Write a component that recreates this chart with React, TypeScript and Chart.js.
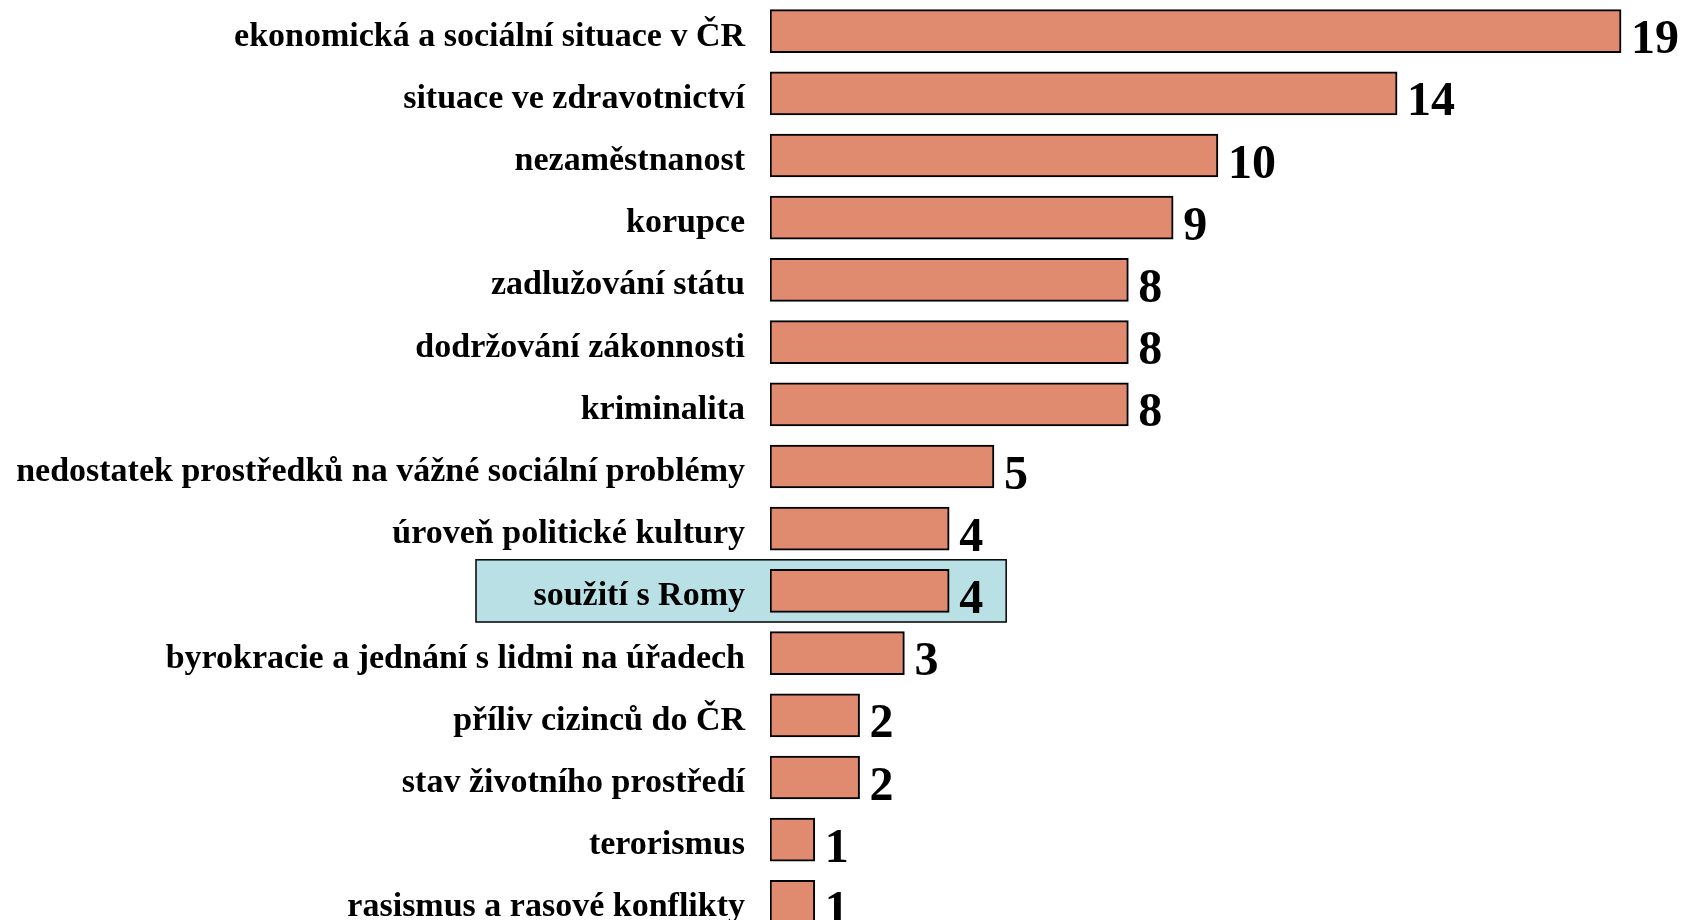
import React, { useEffect, useRef } from "react";
import { Chart, registerables } from "chart.js";

Chart.register(...registerables);

const categories = [
  "ekonomická a sociální situace v ČR",
  "situace ve zdravotnictví",
  "nezaměstnanost",
  "korupce",
  "zadlužování státu",
  "dodržování zákonnosti",
  "kriminalita",
  "nedostatek prostředků na vážné sociální problémy",
  "úroveň politické kultury",
  "soužití s Romy",
  "byrokracie a jednání s lidmi na úřadech",
  "příliv cizinců do ČR",
  "stav životního prostředí",
  "terorismus",
  "rasismus a rasové konflikty",
];

const values = [19, 14, 10, 9, 8, 8, 8, 5, 4, 4, 3, 2, 2, 1, 1];

const highlightIndex = 9;

const BAR_COLOR = "#E08A70";
const HIGHLIGHT_COLOR = "#B9E0E4";
const LABEL_FONT = 'bold 34px "Liberation Serif", "Times New Roman", serif';
const VALUE_FONT = 'bold 48px "Liberation Serif", "Times New Roman", serif';

const highlightPlugin = {
  id: "highlightRow",
  beforeDraw(chart: any) {
    const { ctx, chartArea } = chart;
    const x = chart.scales.x;
    const y = chart.scales.y;
    const c = y.getPixelForValue(highlightIndex);
    const band = y.height / categories.length;
    const left = chartArea.left - 294;
    const right = x.getPixelForValue(values[highlightIndex]) + 57;
    ctx.save();
    ctx.fillStyle = HIGHLIGHT_COLOR;
    ctx.fillRect(left, c - band / 2, right - left, band);
    ctx.strokeStyle = "#000";
    ctx.lineWidth = 1.5;
    ctx.strokeRect(left, c - band / 2, right - left, band);
    ctx.restore();
  },
};

const textPlugin = {
  id: "rowText",
  afterDatasetsDraw(chart: any) {
    const { ctx, chartArea } = chart;
    const y = chart.scales.y;
    ctx.save();
    ctx.fillStyle = "#000";
    ctx.font = LABEL_FONT;
    ctx.textAlign = "right";
    ctx.textBaseline = "alphabetic";
    categories.forEach((label, i) => {
      ctx.fillText(label, chartArea.left - 25, y.getPixelForValue(i) + 14.5);
    });
    const meta = chart.getDatasetMeta(0);
    ctx.font = VALUE_FONT;
    ctx.textAlign = "left";
    meta.data.forEach((bar: any, i: number) => {
      ctx.fillText(String(values[i]), bar.x + 10, bar.y + 22);
    });
    ctx.restore();
  },
};

export default function App() {
  const ref = useRef<HTMLCanvasElement | null>(null);

  useEffect(() => {
    if (!ref.current) return;
    const chart = new Chart(ref.current, {
      type: "bar",
      data: {
        labels: categories,
        datasets: [
          {
            data: values,
            backgroundColor: BAR_COLOR,
            borderColor: "#000",
            borderWidth: 2,
            borderSkipped: false,
            barThickness: 43,
            categoryPercentage: 1,
          },
        ],
      },
      options: {
        indexAxis: "y",
        responsive: false,
        animation: false,
        devicePixelRatio: 1,
        layout: { padding: 0 },
        plugins: {
          legend: { display: false },
          tooltip: { enabled: false },
          title: { display: false },
        },
        scales: {
          x: {
            display: false,
            min: 0,
            max: 20.45,
          },
          y: {
            type: "category",
            grid: { display: false },
            border: { display: false },
            ticks: { display: false },
            afterFit(scale: any) {
              scale.width = 770;
            },
          },
        },
      },
      plugins: [highlightPlugin, textPlugin],
    });
    return () => chart.destroy();
  }, []);

  return (
    <div style={{ position: "absolute", left: 0, top: 0, width: 1686, height: 933 }}>
      <canvas ref={ref} width={1686} height={933} style={{ display: "block" }} />
    </div>
  );
}
